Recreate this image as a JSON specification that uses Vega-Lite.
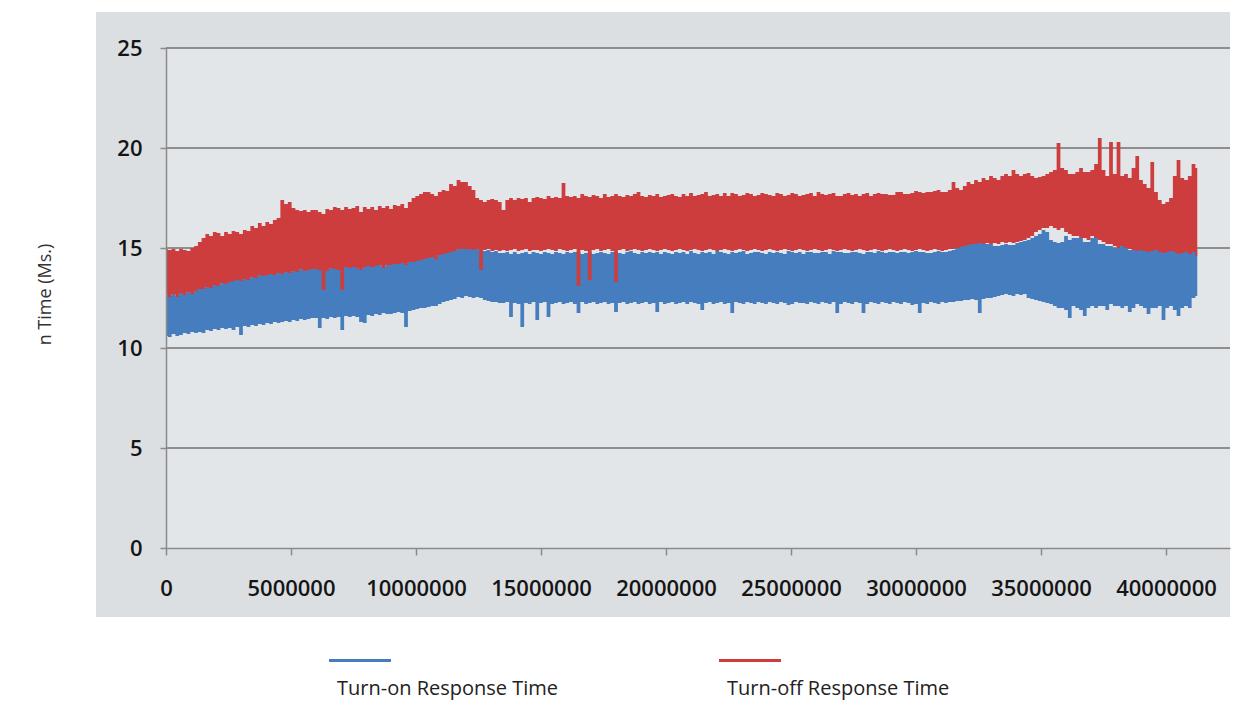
{
"$schema": "https://vega.github.io/schema/vega-lite/v6.json",
"width": 1064, "height": 500,
"autosize": {"type": "none"},
"padding": {"left": 166, "top": 48, "right": 19, "bottom": 153},
"background": "#ffffff",
"config": {
 "view": {"stroke": null},
 "axis": {"grid": false, "domainColor": "#8a8a8a", "domainWidth": 1.5, "tickColor": "#8a8a8a", "tickWidth": 1.5, "labelFont": "Open Sans", "labelFontSize": 22, "labelFontWeight": 600, "labelColor": "#151515"},
 "axisX": {"tickSize": 7, "labelPadding": 23, "labelFlush": false},
 "axisY": {"tickSize": 6, "labelPadding": 18, "titleFont": "Open Sans", "titleFontSize": 18, "titleFontWeight": "normal", "titleColor": "#333333", "titleX": -121, "titleY": 246, "titleAngle": -90, "titleBaseline": "middle", "titleAlign": "center"}
},
"data": {"values": [
{"t":0,"onLo":10.6,"onHi":12.7,"offLo":12.65,"offHi":14.95},{"t":150000,"onLo":10.55,"onHi":12.6,"offLo":12.55,"offHi":14.9},{"t":300000,"onLo":10.7,"onHi":12.75,"offLo":12.7,"offHi":14.95},{"t":450000,"onLo":10.6,"onHi":12.6,"offLo":12.55,"offHi":14.85},{"t":600000,"onLo":10.65,"onHi":12.8,"offLo":12.75,"offHi":14.95},{"t":750000,"onLo":10.75,"onHi":12.7,"offLo":12.65,"offHi":14.9},{"t":900000,"onLo":10.7,"onHi":12.85,"offLo":12.8,"offHi":14.85},{"t":1050000,"onLo":10.8,"onHi":12.75,"offLo":12.7,"offHi":15.0},{"t":1200000,"onLo":10.75,"onHi":12.9,"offLo":12.85,"offHi":15.1},{"t":1350000,"onLo":10.8,"onHi":13.0,"offLo":12.95,"offHi":15.3},
{"t":1500000,"onLo":10.75,"onHi":13.0,"offLo":12.95,"offHi":15.5},{"t":1650000,"onLo":10.9,"onHi":13.1,"offLo":13.05,"offHi":15.7},{"t":1800000,"onLo":10.85,"onHi":13.05,"offLo":13.0,"offHi":15.6},{"t":1950000,"onLo":10.95,"onHi":13.2,"offLo":13.15,"offHi":15.8},{"t":2100000,"onLo":10.9,"onHi":13.15,"offLo":13.1,"offHi":15.75},{"t":2250000,"onLo":11.0,"onHi":13.3,"offLo":13.25,"offHi":15.6},{"t":2400000,"onLo":10.95,"onHi":13.25,"offLo":13.2,"offHi":15.8},{"t":2550000,"onLo":11.0,"onHi":13.35,"offLo":13.3,"offHi":15.7},{"t":2700000,"onLo":10.9,"onHi":13.4,"offLo":13.35,"offHi":15.85},{"t":2850000,"onLo":11.05,"onHi":13.45,"offLo":13.4,"offHi":15.8},
{"t":3000000,"onLo":10.65,"onHi":13.4,"offLo":13.35,"offHi":15.7},{"t":3150000,"onLo":11.1,"onHi":13.5,"offLo":13.45,"offHi":15.9},{"t":3300000,"onLo":11.05,"onHi":13.45,"offLo":13.4,"offHi":15.85},{"t":3450000,"onLo":11.15,"onHi":13.6,"offLo":13.55,"offHi":16.1},{"t":3600000,"onLo":11.1,"onHi":13.55,"offLo":13.5,"offHi":16.0},{"t":3750000,"onLo":11.2,"onHi":13.7,"offLo":13.65,"offHi":16.25},{"t":3900000,"onLo":11.15,"onHi":13.65,"offLo":13.6,"offHi":16.1},{"t":4050000,"onLo":11.25,"onHi":13.7,"offLo":13.65,"offHi":16.3},{"t":4200000,"onLo":11.2,"onHi":13.75,"offLo":13.7,"offHi":16.2},{"t":4350000,"onLo":11.3,"onHi":13.7,"offLo":13.65,"offHi":16.4},
{"t":4500000,"onLo":11.25,"onHi":13.8,"offLo":13.75,"offHi":16.5},{"t":4650000,"onLo":11.3,"onHi":13.75,"offLo":13.7,"offHi":17.4},{"t":4800000,"onLo":11.35,"onHi":13.85,"offLo":13.8,"offHi":17.2},{"t":4950000,"onLo":11.3,"onHi":13.8,"offLo":13.75,"offHi":17.3},{"t":5100000,"onLo":11.4,"onHi":13.9,"offLo":13.85,"offHi":17.0},{"t":5250000,"onLo":11.35,"onHi":13.85,"offLo":13.8,"offHi":16.9},{"t":5400000,"onLo":11.45,"onHi":14.0,"offLo":13.95,"offHi":16.85},{"t":5550000,"onLo":11.4,"onHi":13.9,"offLo":13.85,"offHi":16.9},{"t":5700000,"onLo":11.45,"onHi":13.95,"offLo":13.9,"offHi":16.8},{"t":5850000,"onLo":11.5,"onHi":14.0,"offLo":13.95,"offHi":16.9},
{"t":6000000,"onLo":11.5,"onHi":14.0,"offLo":13.95,"offHi":16.9},{"t":6150000,"onLo":11.0,"onHi":13.95,"offLo":13.9,"offHi":16.8},{"t":6300000,"onLo":11.5,"onHi":14.05,"offLo":12.9,"offHi":16.7},{"t":6450000,"onLo":11.45,"onHi":13.9,"offLo":13.85,"offHi":16.95},{"t":6600000,"onLo":11.55,"onHi":14.05,"offLo":14.0,"offHi":16.9},{"t":6750000,"onLo":11.5,"onHi":14.0,"offLo":13.95,"offHi":17.05},{"t":6900000,"onLo":11.55,"onHi":13.95,"offLo":13.9,"offHi":17.0},{"t":7050000,"onLo":10.9,"onHi":14.05,"offLo":12.9,"offHi":16.9},{"t":7200000,"onLo":11.6,"onHi":14.1,"offLo":14.05,"offHi":17.05},{"t":7350000,"onLo":11.55,"onHi":14.05,"offLo":14.0,"offHi":16.95},
{"t":7500000,"onLo":11.6,"onHi":14.1,"offLo":14.05,"offHi":17.0},{"t":7650000,"onLo":11.55,"onHi":14.05,"offLo":14.0,"offHi":17.1},{"t":7800000,"onLo":11.3,"onHi":13.95,"offLo":13.9,"offHi":16.8},{"t":7950000,"onLo":11.25,"onHi":14.1,"offLo":14.05,"offHi":17.05},{"t":8100000,"onLo":11.65,"onHi":14.15,"offLo":14.1,"offHi":16.95},{"t":8250000,"onLo":11.6,"onHi":14.1,"offLo":14.05,"offHi":17.05},{"t":8400000,"onLo":11.7,"onHi":14.15,"offLo":14.1,"offHi":16.9},{"t":8550000,"onLo":11.65,"onHi":14.2,"offLo":14.15,"offHi":17.1},{"t":8700000,"onLo":11.75,"onHi":14.05,"offLo":14.0,"offHi":17.0},{"t":8850000,"onLo":11.7,"onHi":14.2,"offLo":14.15,"offHi":17.1},
{"t":9000000,"onLo":11.7,"onHi":14.2,"offLo":14.15,"offHi":16.95},{"t":9150000,"onLo":11.75,"onHi":14.25,"offLo":14.2,"offHi":17.15},{"t":9300000,"onLo":11.8,"onHi":14.25,"offLo":14.2,"offHi":17.1},{"t":9450000,"onLo":11.75,"onHi":14.3,"offLo":14.25,"offHi":17.2},{"t":9600000,"onLo":11.05,"onHi":14.2,"offLo":14.15,"offHi":17.0},{"t":9750000,"onLo":11.85,"onHi":14.35,"offLo":14.3,"offHi":17.3},{"t":9900000,"onLo":11.9,"onHi":14.35,"offLo":14.3,"offHi":17.5},{"t":10050000,"onLo":11.95,"onHi":14.4,"offLo":14.35,"offHi":17.6},{"t":10200000,"onLo":12.0,"onHi":14.45,"offLo":14.4,"offHi":17.7},{"t":10350000,"onLo":12.0,"onHi":14.5,"offLo":14.45,"offHi":17.8},
{"t":10500000,"onLo":12.05,"onHi":14.55,"offLo":14.5,"offHi":17.8},{"t":10650000,"onLo":12.1,"onHi":14.6,"offLo":14.55,"offHi":17.7},{"t":10800000,"onLo":12.1,"onHi":14.5,"offLo":14.45,"offHi":17.6},{"t":10950000,"onLo":12.2,"onHi":14.7,"offLo":14.65,"offHi":17.8},{"t":11100000,"onLo":12.3,"onHi":14.75,"offLo":14.7,"offHi":17.9},{"t":11250000,"onLo":12.35,"onHi":14.8,"offLo":14.75,"offHi":17.85},{"t":11400000,"onLo":12.4,"onHi":14.85,"offLo":14.8,"offHi":18.2},{"t":11550000,"onLo":12.45,"onHi":14.9,"offLo":14.85,"offHi":18.1},{"t":11700000,"onLo":12.55,"onHi":15.05,"offLo":14.95,"offHi":18.4},{"t":11850000,"onLo":12.5,"onHi":15.0,"offLo":14.95,"offHi":18.3},
{"t":12000000,"onLo":12.6,"onHi":14.95,"offLo":14.95,"offHi":18.3},{"t":12150000,"onLo":12.55,"onHi":15.0,"offLo":14.95,"offHi":18.1},{"t":12300000,"onLo":12.5,"onHi":14.95,"offLo":14.9,"offHi":17.9},{"t":12450000,"onLo":12.55,"onHi":15.0,"offLo":14.95,"offHi":17.5},{"t":12600000,"onLo":12.5,"onHi":14.9,"offLo":13.9,"offHi":17.4},{"t":12750000,"onLo":12.4,"onHi":14.85,"offLo":14.9,"offHi":17.3},{"t":12900000,"onLo":12.35,"onHi":14.9,"offLo":14.95,"offHi":17.4},{"t":13050000,"onLo":12.3,"onHi":14.8,"offLo":14.85,"offHi":17.45},{"t":13200000,"onLo":12.3,"onHi":14.85,"offLo":14.9,"offHi":17.4},{"t":13350000,"onLo":12.25,"onHi":14.75,"offLo":14.85,"offHi":17.3},
{"t":13500000,"onLo":12.25,"onHi":14.75,"offLo":14.9,"offHi":16.9},{"t":13650000,"onLo":12.3,"onHi":14.8,"offLo":14.85,"offHi":17.4},{"t":13800000,"onLo":11.55,"onHi":14.7,"offLo":14.9,"offHi":17.5},{"t":13950000,"onLo":12.25,"onHi":14.8,"offLo":14.95,"offHi":17.4},{"t":14100000,"onLo":12.2,"onHi":14.7,"offLo":14.85,"offHi":17.5},{"t":14250000,"onLo":11.05,"onHi":14.75,"offLo":14.9,"offHi":17.45},{"t":14400000,"onLo":12.25,"onHi":14.8,"offLo":14.95,"offHi":17.5},{"t":14550000,"onLo":12.2,"onHi":14.7,"offLo":14.85,"offHi":17.3},{"t":14700000,"onLo":12.3,"onHi":14.8,"offLo":14.9,"offHi":17.5},{"t":14850000,"onLo":11.4,"onHi":14.75,"offLo":14.9,"offHi":17.55},
{"t":15000000,"onLo":12.25,"onHi":14.7,"offLo":14.85,"offHi":17.5},{"t":15150000,"onLo":12.3,"onHi":14.8,"offLo":14.9,"offHi":17.45},{"t":15300000,"onLo":11.55,"onHi":14.75,"offLo":14.95,"offHi":17.6},{"t":15450000,"onLo":12.2,"onHi":14.7,"offLo":14.9,"offHi":17.5},{"t":15600000,"onLo":12.25,"onHi":14.8,"offLo":14.85,"offHi":17.55},{"t":15750000,"onLo":12.3,"onHi":14.75,"offLo":14.95,"offHi":17.5},{"t":15900000,"onLo":12.2,"onHi":14.7,"offLo":14.9,"offHi":18.25},{"t":16050000,"onLo":12.25,"onHi":14.8,"offLo":14.85,"offHi":17.6},{"t":16200000,"onLo":12.3,"onHi":14.75,"offLo":14.9,"offHi":17.55},{"t":16350000,"onLo":12.2,"onHi":14.8,"offLo":14.95,"offHi":17.6},
{"t":16500000,"onLo":11.75,"onHi":14.8,"offLo":13.1,"offHi":17.5},{"t":16650000,"onLo":12.3,"onHi":14.7,"offLo":14.9,"offHi":17.7},{"t":16800000,"onLo":12.2,"onHi":14.75,"offLo":14.85,"offHi":17.6},{"t":16950000,"onLo":12.25,"onHi":14.8,"offLo":13.4,"offHi":17.55},{"t":17100000,"onLo":12.3,"onHi":14.7,"offLo":14.9,"offHi":17.65},{"t":17250000,"onLo":12.2,"onHi":14.75,"offLo":14.95,"offHi":17.6},{"t":17400000,"onLo":12.25,"onHi":14.8,"offLo":14.85,"offHi":17.5},{"t":17550000,"onLo":12.3,"onHi":14.75,"offLo":14.9,"offHi":17.7},{"t":17700000,"onLo":12.2,"onHi":14.7,"offLo":14.95,"offHi":17.55},{"t":17850000,"onLo":12.25,"onHi":14.8,"offLo":14.85,"offHi":17.6},
{"t":18000000,"onLo":11.8,"onHi":14.8,"offLo":13.3,"offHi":17.7},{"t":18150000,"onLo":12.25,"onHi":14.75,"offLo":14.9,"offHi":17.6},{"t":18300000,"onLo":12.3,"onHi":14.7,"offLo":14.95,"offHi":17.55},{"t":18450000,"onLo":12.2,"onHi":14.8,"offLo":14.85,"offHi":17.65},{"t":18600000,"onLo":12.25,"onHi":14.85,"offLo":14.9,"offHi":17.6},{"t":18750000,"onLo":12.3,"onHi":14.75,"offLo":14.95,"offHi":17.7},{"t":18900000,"onLo":12.2,"onHi":14.7,"offLo":14.9,"offHi":17.8},{"t":19050000,"onLo":12.25,"onHi":14.8,"offLo":14.85,"offHi":17.6},{"t":19200000,"onLo":12.3,"onHi":14.75,"offLo":14.9,"offHi":17.55},{"t":19350000,"onLo":12.2,"onHi":14.8,"offLo":14.95,"offHi":17.65},
{"t":19500000,"onLo":12.25,"onHi":14.75,"offLo":14.9,"offHi":17.6},{"t":19650000,"onLo":11.8,"onHi":14.8,"offLo":14.85,"offHi":17.7},{"t":19800000,"onLo":12.3,"onHi":14.7,"offLo":14.9,"offHi":17.55},{"t":19950000,"onLo":12.2,"onHi":14.8,"offLo":14.95,"offHi":17.6},{"t":20100000,"onLo":12.25,"onHi":14.75,"offLo":14.9,"offHi":17.65},{"t":20250000,"onLo":12.3,"onHi":14.7,"offLo":14.85,"offHi":17.7},{"t":20400000,"onLo":12.2,"onHi":14.8,"offLo":14.9,"offHi":17.6},{"t":20550000,"onLo":12.25,"onHi":14.75,"offLo":14.95,"offHi":17.55},{"t":20700000,"onLo":12.3,"onHi":14.8,"offLo":14.9,"offHi":17.7},{"t":20850000,"onLo":12.2,"onHi":14.7,"offLo":14.85,"offHi":17.6},
{"t":21000000,"onLo":12.3,"onHi":14.85,"offLo":14.9,"offHi":17.75},{"t":21150000,"onLo":12.25,"onHi":14.75,"offLo":14.95,"offHi":17.6},{"t":21300000,"onLo":12.2,"onHi":14.7,"offLo":14.9,"offHi":17.65},{"t":21450000,"onLo":11.9,"onHi":14.8,"offLo":14.85,"offHi":17.7},{"t":21600000,"onLo":12.25,"onHi":14.75,"offLo":14.9,"offHi":17.8},{"t":21750000,"onLo":12.3,"onHi":14.8,"offLo":14.95,"offHi":17.6},{"t":21900000,"onLo":12.2,"onHi":14.7,"offLo":14.9,"offHi":17.65},{"t":22050000,"onLo":12.25,"onHi":14.85,"offLo":14.85,"offHi":17.7},{"t":22200000,"onLo":12.3,"onHi":14.8,"offLo":14.9,"offHi":17.6},{"t":22350000,"onLo":12.2,"onHi":14.75,"offLo":14.95,"offHi":17.75},
{"t":22500000,"onLo":12.25,"onHi":14.7,"offLo":14.9,"offHi":17.6},{"t":22650000,"onLo":11.75,"onHi":14.8,"offLo":14.85,"offHi":17.75},{"t":22800000,"onLo":12.3,"onHi":14.75,"offLo":14.9,"offHi":17.7},{"t":22950000,"onLo":12.25,"onHi":14.8,"offLo":14.95,"offHi":17.6},{"t":23100000,"onLo":12.2,"onHi":14.85,"offLo":14.9,"offHi":17.65},{"t":23250000,"onLo":12.3,"onHi":14.7,"offLo":14.85,"offHi":17.75},{"t":23400000,"onLo":12.25,"onHi":14.75,"offLo":14.9,"offHi":17.7},{"t":23550000,"onLo":12.2,"onHi":14.8,"offLo":14.95,"offHi":17.6},{"t":23700000,"onLo":12.3,"onHi":14.8,"offLo":14.9,"offHi":17.65},{"t":23850000,"onLo":12.25,"onHi":14.75,"offLo":14.85,"offHi":17.75},
{"t":24000000,"onLo":12.2,"onHi":14.7,"offLo":14.9,"offHi":17.7},{"t":24150000,"onLo":12.3,"onHi":14.8,"offLo":14.95,"offHi":17.65},{"t":24300000,"onLo":12.25,"onHi":14.75,"offLo":14.9,"offHi":17.6},{"t":24450000,"onLo":12.2,"onHi":14.8,"offLo":14.85,"offHi":17.75},{"t":24600000,"onLo":12.3,"onHi":14.75,"offLo":14.9,"offHi":17.7},{"t":24750000,"onLo":12.25,"onHi":14.7,"offLo":14.95,"offHi":17.6},{"t":24900000,"onLo":12.15,"onHi":14.85,"offLo":14.9,"offHi":17.65},{"t":25050000,"onLo":12.2,"onHi":14.8,"offLo":14.85,"offHi":17.75},{"t":25200000,"onLo":12.3,"onHi":14.75,"offLo":14.9,"offHi":17.7},{"t":25350000,"onLo":12.25,"onHi":14.8,"offLo":14.95,"offHi":17.6},
{"t":25500000,"onLo":12.25,"onHi":14.7,"offLo":14.9,"offHi":17.65},{"t":25650000,"onLo":12.2,"onHi":14.8,"offLo":14.85,"offHi":17.7},{"t":25800000,"onLo":12.3,"onHi":14.8,"offLo":14.9,"offHi":17.75},{"t":25950000,"onLo":12.25,"onHi":14.75,"offLo":14.95,"offHi":17.6},{"t":26100000,"onLo":12.2,"onHi":14.75,"offLo":14.9,"offHi":17.8},{"t":26250000,"onLo":12.3,"onHi":14.8,"offLo":14.85,"offHi":17.7},{"t":26400000,"onLo":12.25,"onHi":14.8,"offLo":14.9,"offHi":17.65},{"t":26550000,"onLo":12.2,"onHi":14.7,"offLo":14.95,"offHi":17.7},{"t":26700000,"onLo":12.3,"onHi":14.85,"offLo":14.9,"offHi":17.75},{"t":26850000,"onLo":11.75,"onHi":14.8,"offLo":14.85,"offHi":17.6},
{"t":27000000,"onLo":12.2,"onHi":14.8,"offLo":14.9,"offHi":17.6},{"t":27150000,"onLo":12.3,"onHi":14.75,"offLo":14.95,"offHi":17.7},{"t":27300000,"onLo":12.25,"onHi":14.75,"offLo":14.9,"offHi":17.75},{"t":27450000,"onLo":12.2,"onHi":14.8,"offLo":14.85,"offHi":17.65},{"t":27600000,"onLo":12.3,"onHi":14.8,"offLo":14.9,"offHi":17.7},{"t":27750000,"onLo":12.25,"onHi":14.75,"offLo":14.95,"offHi":17.6},{"t":27900000,"onLo":11.75,"onHi":14.7,"offLo":14.9,"offHi":17.7},{"t":28050000,"onLo":12.2,"onHi":14.8,"offLo":14.85,"offHi":17.75},{"t":28200000,"onLo":12.3,"onHi":14.8,"offLo":14.9,"offHi":17.6},{"t":28350000,"onLo":12.25,"onHi":14.75,"offLo":14.95,"offHi":17.7},
{"t":28500000,"onLo":12.2,"onHi":14.85,"offLo":14.9,"offHi":17.75},{"t":28650000,"onLo":12.3,"onHi":14.8,"offLo":14.85,"offHi":17.7},{"t":28800000,"onLo":12.25,"onHi":14.75,"offLo":14.9,"offHi":17.7},{"t":28950000,"onLo":12.2,"onHi":14.8,"offLo":14.95,"offHi":17.65},{"t":29100000,"onLo":12.3,"onHi":14.8,"offLo":14.9,"offHi":17.65},{"t":29250000,"onLo":12.25,"onHi":14.75,"offLo":14.85,"offHi":17.8},{"t":29400000,"onLo":12.2,"onHi":14.8,"offLo":14.9,"offHi":17.8},{"t":29550000,"onLo":12.3,"onHi":14.8,"offLo":14.95,"offHi":17.7},{"t":29700000,"onLo":12.25,"onHi":14.75,"offLo":14.9,"offHi":17.7},{"t":29850000,"onLo":12.15,"onHi":14.8,"offLo":14.85,"offHi":17.75},
{"t":30000000,"onLo":12.2,"onHi":14.85,"offLo":14.9,"offHi":17.85},{"t":30150000,"onLo":11.75,"onHi":14.8,"offLo":14.95,"offHi":17.8},{"t":30300000,"onLo":12.25,"onHi":14.8,"offLo":14.9,"offHi":17.75},{"t":30450000,"onLo":12.2,"onHi":14.75,"offLo":14.85,"offHi":17.8},{"t":30600000,"onLo":12.3,"onHi":14.75,"offLo":14.9,"offHi":17.8},{"t":30750000,"onLo":12.25,"onHi":14.8,"offLo":14.95,"offHi":17.85},{"t":30900000,"onLo":12.2,"onHi":14.85,"offLo":14.9,"offHi":17.9},{"t":31050000,"onLo":12.3,"onHi":14.8,"offLo":14.85,"offHi":17.8},{"t":31200000,"onLo":12.25,"onHi":14.8,"offLo":14.9,"offHi":17.8},{"t":31350000,"onLo":12.3,"onHi":14.85,"offLo":14.95,"offHi":17.9},
{"t":31500000,"onLo":12.3,"onHi":14.9,"offLo":14.95,"offHi":18.3},{"t":31650000,"onLo":12.35,"onHi":15.0,"offLo":15.0,"offHi":18.0},{"t":31800000,"onLo":12.35,"onHi":15.1,"offLo":15.05,"offHi":17.9},{"t":31950000,"onLo":12.4,"onHi":15.2,"offLo":15.1,"offHi":18.1},{"t":32100000,"onLo":12.4,"onHi":15.25,"offLo":15.15,"offHi":18.3},{"t":32250000,"onLo":12.45,"onHi":15.2,"offLo":15.2,"offHi":18.2},{"t":32400000,"onLo":12.4,"onHi":15.2,"offLo":15.2,"offHi":18.4},{"t":32550000,"onLo":11.75,"onHi":15.25,"offLo":15.25,"offHi":18.3},{"t":32700000,"onLo":12.45,"onHi":15.25,"offLo":15.2,"offHi":18.5},{"t":32850000,"onLo":12.5,"onHi":15.2,"offLo":15.25,"offHi":18.4},
{"t":33000000,"onLo":12.5,"onHi":15.2,"offLo":15.2,"offHi":18.6},{"t":33150000,"onLo":12.55,"onHi":15.1,"offLo":15.25,"offHi":18.5},{"t":33300000,"onLo":12.6,"onHi":15.1,"offLo":15.2,"offHi":18.4},{"t":33450000,"onLo":12.65,"onHi":15.15,"offLo":15.3,"offHi":18.6},{"t":33600000,"onLo":12.7,"onHi":15.2,"offLo":15.25,"offHi":18.7},{"t":33750000,"onLo":12.65,"onHi":15.15,"offLo":15.3,"offHi":18.6},{"t":33900000,"onLo":12.6,"onHi":15.15,"offLo":15.25,"offHi":18.9},{"t":34050000,"onLo":12.7,"onHi":15.25,"offLo":15.3,"offHi":18.7},{"t":34200000,"onLo":12.65,"onHi":15.3,"offLo":15.35,"offHi":18.6},{"t":34350000,"onLo":12.7,"onHi":15.35,"offLo":15.4,"offHi":18.7},
{"t":34500000,"onLo":12.5,"onHi":15.4,"offLo":15.5,"offHi":18.75},{"t":34650000,"onLo":12.45,"onHi":15.5,"offLo":15.6,"offHi":18.6},{"t":34800000,"onLo":12.4,"onHi":15.6,"offLo":15.8,"offHi":18.5},{"t":34950000,"onLo":12.35,"onHi":15.7,"offLo":15.9,"offHi":18.55},{"t":35100000,"onLo":12.3,"onHi":15.9,"offLo":16.0,"offHi":18.6},{"t":35250000,"onLo":12.25,"onHi":15.8,"offLo":16.0,"offHi":18.7},{"t":35400000,"onLo":12.2,"onHi":15.4,"offLo":16.1,"offHi":18.8},{"t":35550000,"onLo":12.1,"onHi":15.3,"offLo":16.0,"offHi":18.9},{"t":35700000,"onLo":12.0,"onHi":15.25,"offLo":15.9,"offHi":20.25},{"t":35850000,"onLo":12.0,"onHi":15.3,"offLo":16.0,"offHi":19.0},
{"t":36000000,"onLo":11.9,"onHi":15.6,"offLo":15.8,"offHi":18.9},{"t":36150000,"onLo":11.5,"onHi":15.4,"offLo":15.7,"offHi":18.7},{"t":36300000,"onLo":12.1,"onHi":15.5,"offLo":15.6,"offHi":18.7},{"t":36450000,"onLo":12.0,"onHi":15.5,"offLo":15.6,"offHi":18.8},{"t":36600000,"onLo":11.9,"onHi":15.5,"offLo":15.5,"offHi":19.0},{"t":36750000,"onLo":11.6,"onHi":15.3,"offLo":15.5,"offHi":18.8},{"t":36900000,"onLo":12.0,"onHi":15.3,"offLo":15.4,"offHi":18.8},{"t":37050000,"onLo":12.1,"onHi":15.5,"offLo":15.6,"offHi":18.9},{"t":37200000,"onLo":12.0,"onHi":15.6,"offLo":15.5,"offHi":19.2},{"t":37350000,"onLo":12.1,"onHi":15.2,"offLo":15.4,"offHi":20.5},
{"t":37500000,"onLo":12.1,"onHi":15.2,"offLo":15.3,"offHi":18.9},{"t":37650000,"onLo":11.9,"onHi":15.1,"offLo":15.2,"offHi":18.6},{"t":37800000,"onLo":12.2,"onHi":15.1,"offLo":15.2,"offHi":20.3},{"t":37950000,"onLo":12.1,"onHi":15.0,"offLo":15.1,"offHi":18.7},{"t":38100000,"onLo":12.1,"onHi":15.0,"offLo":15.0,"offHi":20.3},{"t":38250000,"onLo":12.0,"onHi":15.1,"offLo":15.1,"offHi":18.6},{"t":38400000,"onLo":12.1,"onHi":15.1,"offLo":15.0,"offHi":18.7},{"t":38550000,"onLo":11.8,"onHi":14.9,"offLo":14.95,"offHi":18.5},{"t":38700000,"onLo":12.0,"onHi":14.9,"offLo":14.9,"offHi":19.0},{"t":38850000,"onLo":12.2,"onHi":15.0,"offLo":14.85,"offHi":19.6},
{"t":39000000,"onLo":12.1,"onHi":15.0,"offLo":14.9,"offHi":18.4},{"t":39150000,"onLo":12.0,"onHi":14.9,"offLo":14.85,"offHi":18.2},{"t":39300000,"onLo":11.7,"onHi":14.9,"offLo":14.8,"offHi":18.0},{"t":39450000,"onLo":12.0,"onHi":14.95,"offLo":14.85,"offHi":19.3},{"t":39600000,"onLo":12.0,"onHi":15.0,"offLo":14.9,"offHi":17.8},{"t":39750000,"onLo":12.1,"onHi":14.9,"offLo":14.8,"offHi":17.4},{"t":39900000,"onLo":11.4,"onHi":14.85,"offLo":14.75,"offHi":17.2},{"t":40050000,"onLo":12.0,"onHi":14.9,"offLo":14.8,"offHi":17.3},{"t":40200000,"onLo":12.1,"onHi":14.9,"offLo":14.85,"offHi":17.5},{"t":40350000,"onLo":11.9,"onHi":14.85,"offLo":14.8,"offHi":18.6},
{"t":40500000,"onLo":11.6,"onHi":14.8,"offLo":14.7,"offHi":19.4},{"t":40650000,"onLo":12.0,"onHi":14.9,"offLo":14.75,"offHi":18.5},{"t":40800000,"onLo":12.1,"onHi":14.9,"offLo":14.8,"offHi":18.4},{"t":40950000,"onLo":12.0,"onHi":14.85,"offLo":14.7,"offHi":18.6},{"t":41100000,"onLo":12.5,"onHi":14.85,"offLo":14.8,"offHi":19.2},{"t":41250000,"onLo":12.6,"onHi":14.9,"offLo":14.6,"offHi":19.0}
]},
"layer": [
 {
  "data": {"values": [{"box": "chart"}]},
  "mark": {"type": "rect", "color": "#dcdfe2"},
  "encoding": {
   "x": {"datum": -2800000, "type": "quantitative", "scale": {"domain": [0, 42560000], "nice": false, "zero": false}, "title": null},
   "x2": {"datum": 42560000},
   "y": {"datum": 26.8, "type": "quantitative", "scale": {"domain": [0, 25], "nice": false, "zero": false}, "title": "n Time (Ms.)"},
   "y2": {"datum": -3.45}
  }
 },
 {
  "data": {"values": [{"box": "plot"}]},
  "mark": {"type": "rect", "color": "#e3e6e9"},
  "encoding": {
   "x": {"datum": 0, "type": "quantitative", "title": null},
   "x2": {"datum": 42560000},
   "y": {"datum": 25, "type": "quantitative", "title": "n Time (Ms.)"},
   "y2": {"datum": 0}
  }
 },
 {
  "data": {"values": [{"g": 5}, {"g": 10}, {"g": 15}, {"g": 20}, {"g": 25}]},
  "mark": {"type": "rule", "color": "#707070", "strokeWidth": 1.6},
  "encoding": {
   "y": {"field": "g", "type": "quantitative", "title": "n Time (Ms.)"}
  }
 },
 {
  "mark": {"type": "area", "interpolate": "step", "opacity": 1},
  "encoding": {
   "x": {"field": "t", "type": "quantitative", "title": null, "axis": {"zindex": 1, "values": [0, 5000000, 10000000, 15000000, 20000000, 25000000, 30000000, 35000000, 40000000], "format": "d"}},
   "y": {"field": "onLo", "type": "quantitative", "title": "n Time (Ms.)", "axis": {"zindex": 1, "values": [0, 5, 10, 15, 20, 25]}},
   "y2": {"field": "onHi"},
   "color": {"datum": "Turn-on Response Time", "type": "nominal", "scale": {"domain": ["Turn-on Response Time", "Turn-off Response Time"], "range": ["#467dbe", "#cd3d3d"]},
    "legend": {"orient": "none", "legendX": 151, "legendY": 631, "direction": "horizontal", "title": null,
     "symbolType": "M 0.4 -6.0 L 12.8 -6.0 L 12.8 -5.4 L 0.4 -5.4 Z", "symbolSize": 100, "symbolStrokeWidth": 0, "symbolOpacity": 1,
     "labelOffset": 0, "columnPadding": 148, "labelFont": "Open Sans", "labelFontSize": 20, "labelColor": "#222222", "labelLimit": 400}}
  }
 },
 {
  "mark": {"type": "area", "interpolate": "step", "opacity": 1},
  "encoding": {
   "x": {"field": "t", "type": "quantitative", "title": null},
   "y": {"field": "offLo", "type": "quantitative", "title": "n Time (Ms.)"},
   "y2": {"field": "offHi"},
   "color": {"datum": "Turn-off Response Time", "type": "nominal"}
  }
 }
]
}
